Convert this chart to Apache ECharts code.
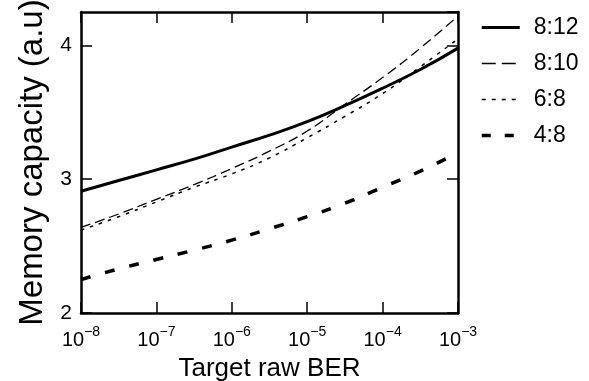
<!DOCTYPE html>
<html>
<head>
<meta charset="utf-8">
<script src="https://cdn.jsdelivr.net/npm/echarts@6/dist/echarts.min.js"></script>
<style>html,body{margin:0;padding:0;background:#fff;}#c{width:589px;height:381px;}</style>
</head>
<body>
<div id="c"></div>
<script>
// log10 of target raw BER
const berExponents = [-8, -7.5, -7, -6.5, -6, -5.5, -5, -4.5, -4, -3.5, -3];
const seriesNames = ['8:12', '8:10', '6:8', '4:8'];
const cap_8_12 = [2.91, 2.99, 3.07, 3.15, 3.24, 3.33, 3.43, 3.55, 3.68, 3.82, 3.98];
const cap_8_10 = [2.64, 2.74, 2.85, 2.96, 3.08, 3.21, 3.36, 3.56, 3.76, 3.98, 4.22];
const cap_6_8  = [2.62, 2.72, 2.83, 2.94, 3.04, 3.16, 3.31, 3.47, 3.64, 3.84, 4.05];
const cap_4_8  = [2.25, 2.33, 2.40, 2.47, 2.545, 2.63, 2.72, 2.82, 2.94, 3.06, 3.20];
const yTicks = [2, 3, 4];

const toData = arr => arr.map((v, i) => [Math.pow(10, berExponents[i]), v]);
const styles = [
  {width: 3, type: 'solid'},
  {width: 1.3, type: [10, 5]},
  {width: 1.5, type: [3.5, 6]},
  {width: 3.5, type: [10, 15]}
];
const legendStyles = [
  {width: 3, type: 'solid'},
  {width: 1.3, type: [14, 6]},
  {width: 1.3, type: [4, 6]},
  {width: 3.5, type: [9, 14]}
];
const values = [cap_8_12, cap_8_10, cap_6_8, cap_4_8];

const chart = echarts.init(document.getElementById('c'));
const font = 'Liberation Sans, Arial, sans-serif';
const axisLineStyle = {color: '#000', width: 2.5};
const tickStyle = {show: true, inside: true, length: 11, lineStyle: {color: '#000', width: 1.5}};

chart.setOption({
  animation: false,
  backgroundColor: '#fff',
  textStyle: {fontFamily: font, color: '#000'},
  grid: {left: 81, right: 131, top: 12, bottom: 68, containLabel: false, outerBoundsMode: 'none'},
  legend: {
    orient: 'vertical',
    left: 475, top: 11,
    itemWidth: 38, itemHeight: 20, itemGap: 13,
    data: seriesNames.map((n, i) => ({
      name: n,
      lineStyle: {color: '#000', width: legendStyles[i].width, type: legendStyles[i].type}
    })),
    itemStyle: {opacity: 0},
    textStyle: {fontSize: 23, color: '#000', fontFamily: font, padding: [0, 0, 0, 9]}
  },
  xAxis: [{
    type: 'log', logBase: 10, min: 1e-8, max: 1e-3,
    position: 'bottom',
    axisLine: {show: true, lineStyle: axisLineStyle},
    axisTick: tickStyle,
    splitLine: {show: false},
    minorTick: {show: false},
    axisLabel: {
      margin: 12,
      color: '#000',
      formatter: v => '{b|10}{s|−' + Math.abs(Math.round(Math.log10(v))) + '}',
      rich: {
        b: {fontSize: 20, lineHeight: 30, fontFamily: font, color: '#000'},
        s: {fontSize: 14, lineHeight: 14, verticalAlign: 'top', fontFamily: font, color: '#000'}
      }
    },
    name: 'Target raw BER', nameLocation: 'middle', nameGap: 43,
    nameTextStyle: {fontSize: 26, color: '#000', fontFamily: font}
  }, {
    type: 'log', logBase: 10, min: 1e-8, max: 1e-3,
    position: 'top',
    axisLine: {show: true, lineStyle: axisLineStyle},
    axisTick: tickStyle,
    axisLabel: {show: false},
    splitLine: {show: false}
  }],
  yAxis: [{
    type: 'value', min: 2, max: 4.25, interval: 1,
    position: 'left',
    axisLine: {show: true, lineStyle: axisLineStyle},
    axisTick: tickStyle,
    splitLine: {show: false},
    axisLabel: {
      fontSize: 21, color: '#000', margin: 9, showMaxLabel: false,
      formatter: v => yTicks.indexOf(v) >= 0 ? String(v) : ''
    },
    name: 'Memory capacity (a.u)', nameLocation: 'middle', nameGap: 32,
    nameTextStyle: {fontSize: 33, color: '#000', fontFamily: font}
  }, {
    type: 'value', min: 2, max: 4.25, interval: 1,
    position: 'right',
    axisLine: {show: true, lineStyle: axisLineStyle},
    axisTick: tickStyle,
    axisLabel: {show: false},
    splitLine: {show: false}
  }],
  series: values.map((arr, i) => ({
    name: seriesNames[i],
    type: 'line',
    xAxisIndex: 0, yAxisIndex: 0,
    data: toData(arr),
    smooth: true,
    symbol: 'none',
    color: '#000',
    lineStyle: {color: '#000', width: styles[i].width, type: styles[i].type}
  }))
});
</script>
</body>
</html>
